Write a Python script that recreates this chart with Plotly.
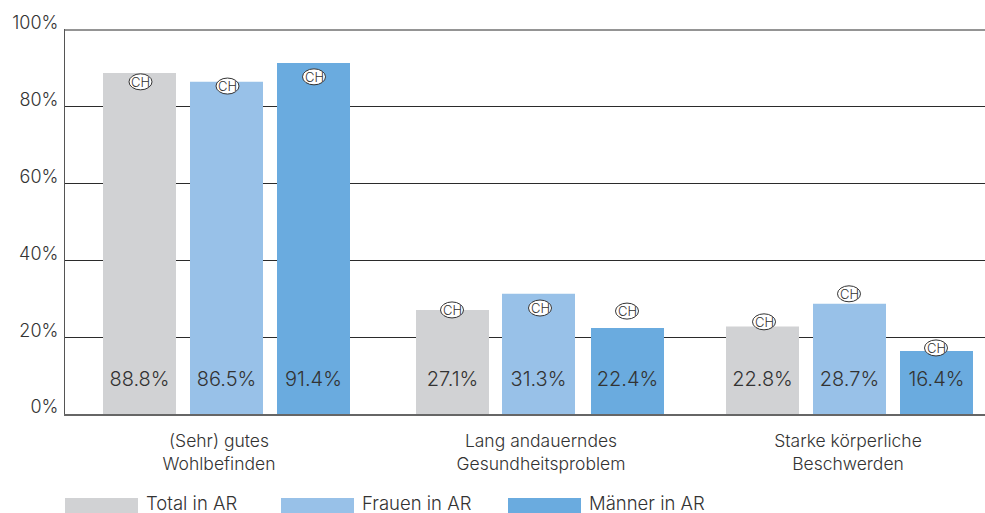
import plotly.graph_objects as go

categories = ["(Sehr) gutes<br>Wohlbefinden", "Lang andauerndes<br>Gesundheitsproblem", "Starke körperliche<br>Beschwerden"]
series_names = ["Total in AR", "Frauen in AR", "Männer in AR"]
total_values = [88.8, 27.1, 22.8]
women_values = [86.5, 31.3, 28.7]
men_values = [91.4, 22.4, 16.4]
ch_total = [86.5, 27.1, 24.0]
ch_women = [85.4, 27.6, 31.3]
ch_men = [87.8, 26.8, 17.2]
y_ticks = [0, 20, 40, 60, 80, 100]

colors = ["#d1d2d4", "#98c1e8", "#6aabdf"]
# horizontal axis runs in pixel-like units so the uneven group spacing can be kept
x_total = [139.5, 452.5, 762.5]
x_women = [226.5, 538.5, 849.5]
x_men = [313.5, 627.5, 936.5]
ch_x_total = [140.5, 452, 764]
ch_x_women = [227.5, 540, 849]
ch_x_men = [314, 627, 936]
label_x = [219, 541, 848]
label_height = 8.5
FONT = "Inter"
TEXT = "#333333"
PLOT_H = 385
Y_MAX = 100.26

fig = go.Figure()
all_x = [x_total, x_women, x_men]
all_v = [total_values, women_values, men_values]
all_ch_x = [ch_x_total, ch_x_women, ch_x_men]
all_ch = [ch_total, ch_women, ch_men]

for name, xs, vals, col in zip(series_names, all_x, all_v, colors):
    fig.add_trace(go.Bar(x=xs, y=vals, name=name, width=73, marker=dict(color=col, line=dict(width=0)),
                         showlegend=False, hoverinfo="name+y"))

for xs, vals in zip(all_x, all_v):
    fig.add_trace(go.Scatter(x=xs, y=[label_height] * len(vals), mode="text",
                             text=[f"{v:.1f}%" for v in vals],
                             textfont=dict(family=FONT, size=20, color=TEXT, weight=300),
                             textposition="middle center", showlegend=False, hoverinfo="skip"))

# top rule at 100 % (Plotly skips a gridline this close to the plot edge)
shapes = [dict(type="line", xref="paper", yref="y", x0=0, x1=1, y0=100, y1=100,
               line=dict(color="#2b2b2b", width=1), layer="below")]
annotations = []
for xs, vals in zip(all_ch_x, all_ch):
    for x, v in zip(xs, vals):
        shapes.append(dict(type="circle", xref="x", yref="y", xsizemode="pixel", ysizemode="pixel",
                           xanchor=x, yanchor=v, x0=-11.5, x1=11.5, y0=-8, y1=8,
                           fillcolor="white", line=dict(color="#333333", width=1), layer="above"))
        annotations.append(dict(x=x, y=v, xref="x", yref="y", text="CH", showarrow=False,
                                font=dict(family=FONT, size=13, color=TEXT, weight=300),
                                xanchor="center", yanchor="middle"))

legend_x = [65, 281, 508]
swatch_w = 73
bottom_px = 414
for name, lx, col in zip(series_names, legend_x, colors):
    shapes.append(dict(type="rect", xref="x", yref="paper", x0=lx, x1=lx + swatch_w,
                       y0=-(513 - bottom_px) / PLOT_H, y1=-(498 - bottom_px) / PLOT_H,
                       fillcolor=col, line=dict(width=0), layer="above"))
    annotations.append(dict(x=lx + swatch_w + 6, y=-(503 - bottom_px) / PLOT_H, xref="x", yref="paper",
                            text=name, showarrow=False,
                            font=dict(family=FONT, size=18.5, color=TEXT, weight=300),
                            xanchor="left", yanchor="middle"))

fig.update_layout(
    width=985, height=513, margin=dict(l=65, r=0, t=29, b=99, pad=0),
    paper_bgcolor="white", plot_bgcolor="white",
    barmode="overlay", shapes=shapes, annotations=annotations, showlegend=False,
    xaxis=dict(range=[65, 985], tickmode="array", tickvals=label_x, ticktext=categories, ticks="",
               tickfont=dict(family=FONT, size=17.5, color=TEXT, weight=300), showgrid=False, zeroline=False,
               showline=True, linecolor="#666666", linewidth=1.5, ticklabelstandoff=10),
    yaxis=dict(range=[0, Y_MAX], tickmode="array", tickvals=y_ticks, ticktext=[f"{t}%" for t in y_ticks],
               ticks="", tickfont=dict(family=FONT, size=18, color=TEXT, weight=300), showgrid=True,
               gridcolor="#2b2b2b", gridwidth=1, zeroline=False, showline=True, linecolor="#555555",
               linewidth=1, ticklabelstandoff=2, ticklabelshift=-7),
)

fig.write_html("out.html", post_script="document.body.style.margin='0';", config=dict(displayModeBar=False))
